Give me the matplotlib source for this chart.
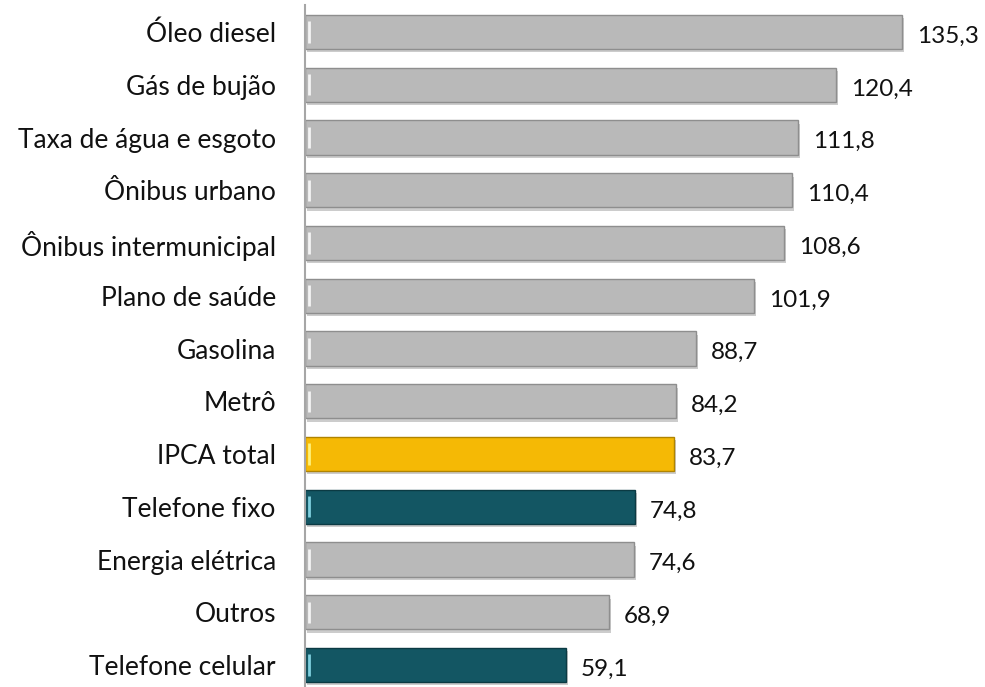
import matplotlib.pyplot as plt
import matplotlib.patheffects as pe

# dados (variação acumulada, %)
itens = ["Óleo diesel", "Gás de bujão", "Taxa de água e esgoto", "Ônibus urbano",
         "Ônibus intermunicipal", "Plano de saúde", "Gasolina", "Metrô",
         "IPCA total", "Telefone fixo", "Energia elétrica", "Outros",
         "Telefone celular"]
valores = [135.3, 120.4, 111.8, 110.4, 108.6, 101.9, 88.7, 84.2, 83.7, 74.8,
           74.6, 68.9, 59.1]
destaque = ["cinza", "cinza", "cinza", "cinza", "cinza", "cinza", "cinza",
            "cinza", "ipca", "tel", "cinza", "cinza", "tel"]

cores = {"cinza": "#b9b9b9", "ipca": "#f5b905", "tel": "#135663"}
bordas = {"cinza": "#8e8e8e", "ipca": "#b08400", "tel": "#0b3a43"}
brilho = {"cinza": "#f4f4f4", "ipca": "#fff27a", "tel": "#7fd0df"}

plt.rcParams['font.family'] = ['Lato', 'DejaVu Sans']

fig = plt.figure(figsize=(9.85, 6.87), dpi=100)
ax = fig.add_axes([305 / 985, 0, 680 / 985, 682 / 687])

pos = list(range(len(itens)))
altura = 0.645
barras = ax.barh(pos, valores, height=altura,
                 color=[cores[d] for d in destaque],
                 edgecolor=[bordas[d] for d in destaque], linewidth=1.0)
for b in barras:
    b.set_path_effects([pe.SimplePatchShadow(offset=(1.5, -2.5), shadow_rgbFace="#9a9a9a", alpha=0.5),
                        pe.Normal()])

# brilho na borda esquerda das barras
for p, d in zip(pos, destaque):
    ax.plot([0.9, 0.9], [p - altura / 2 + 0.12, p + altura / 2 - 0.12],
            color=brilho[d], lw=2.0, solid_capstyle="butt")

for p, v in zip(pos, valores):
    ax.text(v + 3.4, p + 0.08, f"{v:.1f}".replace(".", ","), va="center",
            ha="left", fontsize=17.5, color="#111111")

ax.set_yticks(pos)
ax.set_yticklabels(itens, fontsize=19, color="#111111")
ax.tick_params(axis="y", length=0, pad=21)
ax.set_xticks([])
ax.set_xlim(0, 154.2)
ax.set_ylim(12.417, -0.512)

for s in ["top", "right", "bottom"]:
    ax.spines[s].set_visible(False)
ax.spines["left"].set_color("#a6a6a6")
ax.spines["left"].set_linewidth(1.5)

fig.savefig("out.png", dpi=100)
